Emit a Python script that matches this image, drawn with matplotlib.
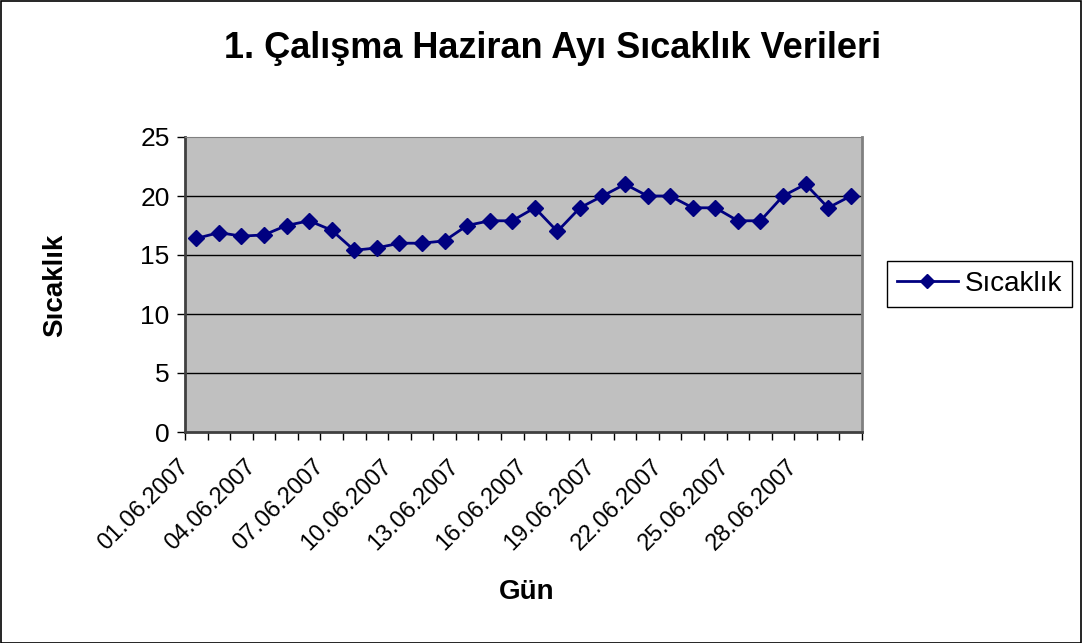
import numpy as np
import matplotlib.pyplot as plt
from matplotlib.patches import Rectangle
import matplotlib.transforms as mtransforms

plt.rcParams['font.family'] = ['Liberation Sans', 'DejaVu Sans']

# veriler
gunler = ["%02d.06.2007" % d for d in range(1, 31)]
sicaklik = [16.4, 16.9, 16.6, 16.7, 17.5, 17.9, 17.1, 15.4, 15.6, 16.0,
            16.0, 16.2, 17.5, 17.9, 17.9, 19.0, 17.0, 19.0, 20.0, 21.0,
            20.0, 20.0, 19.0, 19.0, 17.9, 17.9, 20.0, 21.0, 19.0, 20.0]
y_ticks = [0, 5, 10, 15, 20, 25]

W, H = 1082, 643
fig = plt.figure(figsize=(W / 100, H / 100), dpi=100)
fig.patch.set_facecolor('white')
fig.add_artist(Rectangle((0.5 / W, 0.5 / H), 1 - 1.5 / W, 1 - 1.5 / H,
                         transform=fig.transFigure, fill=False,
                         edgecolor='black', linewidth=1.2))

# plot alani (piksel)
left, right, top, bottom = 185, 862, 137, 432
ax = fig.add_axes([left / W, 1 - bottom / H, (right - left) / W, (bottom - top) / H])
ax.set_facecolor('#C0C0C0')

x = np.arange(len(sicaklik))
ax.plot(x, sicaklik, color='#000080', linewidth=2, marker='D',
        markersize=8.5, markerfacecolor='#000080', markeredgecolor='#000080',
        label='Sıcaklık', zorder=3)

ax.set_xlim(-0.5, len(sicaklik) - 0.5)
ax.set_ylim(0, 25)
ax.set_yticks(y_ticks)
ax.set_yticklabels([str(v) for v in y_ticks], fontsize=19)
for v in y_ticks[1:-1]:
    ax.axhline(v, color='black', linewidth=1, zorder=1)

# x eksen: kategoriler arasinda tick
ax.set_xticks(np.arange(-0.5, len(sicaklik), 1.0), minor=False)
ax.set_xticklabels([])
ax.set_xticks(x[::3], minor=True)
ax.set_xticklabels([gunler[i] for i in x[::3]], minor=True, rotation=45,
                   ha='right', va='top', rotation_mode='anchor', fontsize=17)
ax.tick_params(axis='x', which='minor', length=0, pad=17)
ax.tick_params(axis='x', which='major', length=6, direction='out', width=1)
ax.tick_params(axis='y', length=6, direction='out', width=1, pad=5)
offset = mtransforms.ScaledTranslation(-19 / 100, 0, fig.dpi_scale_trans)
for lab in ax.get_xticklabels(minor=True):
    lab.set_transform(lab.get_transform() + offset)

ax.spines['left'].set_color('#404040')
ax.spines['left'].set_linewidth(2)
ax.spines['bottom'].set_color('#404040')
ax.spines['bottom'].set_linewidth(2)
ax.spines['top'].set_color('#808080')
ax.spines['right'].set_color('#808080')
ax.spines['right'].set_linewidth(2)

fig.text(553 / W, 1 - 48 / H, '1. Çalışma Haziran Ayı Sıcaklık Verileri',
         ha='center', va='center', fontsize=26, fontweight='bold')
fig.text(55 / W, 1 - 285 / H, 'Sıcaklık', rotation=90, ha='center',
         va='center', fontsize=20, fontweight='bold')
fig.text(527 / W, 1 - 592 / H, 'Gün', ha='center', va='center',
         fontsize=20, fontweight='bold')

leg = ax.legend(loc='center left', bbox_to_anchor=(887 / W, 1 - 284 / H),
                bbox_transform=fig.transFigure, fontsize=20, frameon=True,
                fancybox=False, edgecolor='black', framealpha=1,
                borderpad=0.35, handlelength=2.2, handletextpad=0.25,
                borderaxespad=0, markerscale=0.8)
leg.get_frame().set_linewidth(1)

fig.savefig('out.png', dpi=100)
